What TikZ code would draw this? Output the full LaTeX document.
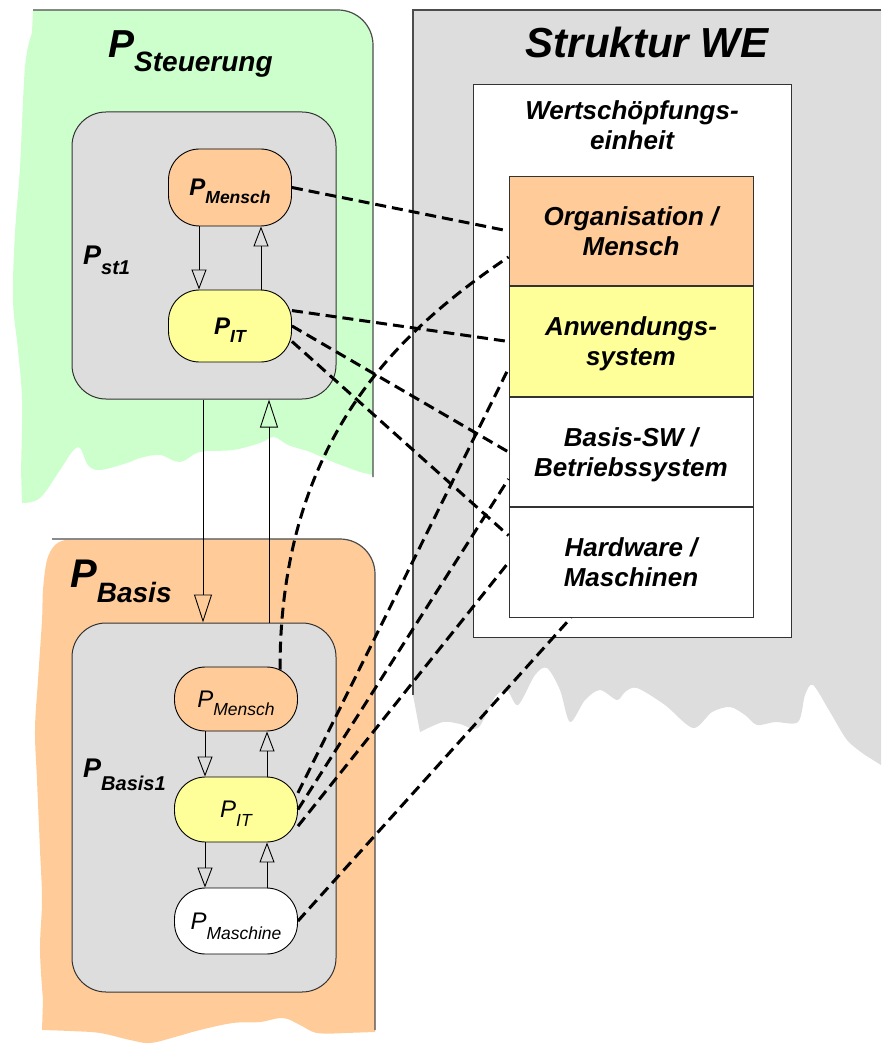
\documentclass[tikz,border=0pt]{standalone}
\usepackage{fontspec}
\setmainfont{Liberation Sans}
\usetikzlibrary{arrows.meta,positioning}

\definecolor{greenBg}{HTML}{CCFFCC}
\definecolor{orangeBg}{HTML}{FFCC99}
\definecolor{yellowBg}{HTML}{FFFF99}
\definecolor{grayBg}{HTML}{DDDDDD}

% P with a lowered index: P size, index size, drop, index
\newcommand{\Pidx}[4]{{\fontsize{#1}{#1}\selectfont P}\smash{\raisebox{-#3pt}{\fontsize{#2}{#2}\selectfont #4}}}

\begin{document}
\begin{tikzpicture}[x=1pt, y=-1pt,
  areaLine/.style={draw=black!70, line width=1.2pt},
  groupStyle/.style={draw=black!80, fill=grayBg, line width=1pt, rounded corners=34pt, inner sep=0pt, minimum width=264pt},
  pillStyle/.style={draw=black, line width=0.9pt, rounded corners=31pt, inner sep=0pt, minimum width=123pt},
  layerStyle/.style={draw=black!80, line width=1pt, minimum width=244pt, minimum height=109.5pt, inner sep=0pt, text depth=0pt, align=center, font=\fontsize{26}{30}\selectfont\bfseries\itshape},
  linkStyle/.style={line width=3pt, dash pattern=on 11pt off 6pt},
  flowStyle/.style={line width=0.9pt, -{Triangle[open, length=20pt, width=15pt]}},
  bigFlowStyle/.style={line width=0.9pt, -{Triangle[open, length=28pt, width=18pt]}}
]
\useasboundingbox (0,0) rectangle (881,1048);

% torn background areas
\fill[greenBg] (33,10) -- (338,10) arc[start angle=90, end angle=0, radius=35pt] -- (373,475)
  -- plot[smooth, tension=0.6] coordinates {(360,472) (333,462) (310,452) (288,445) (274,437) (260,443) (233,450) (200,452) (180,462) (160,455) (140,458) (127,463) (100,470) (88,465) (80,448) (72,452) (60,470) (40,498) (22,503)}
  -- plot[smooth, tension=0.6] coordinates {(21,470) (22,400) (18,350) (13,300) (15,233) (20,167) (25,67) (32,33)} -- cycle;
\fill[orangeBg] (340,539) arc[start angle=90, end angle=0, radius=35pt] -- (375,1032)
  -- plot[smooth, tension=0.6] coordinates {(345,1033) (317,1033) (300,1025) (283,1018) (260,1022) (233,1023) (200,1030) (175,1037) (150,1043) (130,1040) (100,1033) (70,1031) (42,1030)}
  -- plot[smooth, tension=0.6] coordinates {(43,1000) (40,950) (42,900) (40,850) (37,780) (35,730) (38,680) (42,620) (43,590) (47,560) (55,545) (65,540)} -- cycle;
\fill[grayBg] (413,10) -- (881,10) -- (881,765)
  -- plot[smooth, tension=0.5] coordinates {(865,755) (847,740) (830,712) (813,685) (805,695) (798,722) (775,722) (757,725) (745,715) (730,707) (712,712) (693,728) (665,705) (637,688) (625,692) (617,700) (600,690) (585,700) (570,722) (560,690) (547,668) (535,675) (518,705) (507,690) (495,697) (478,728) (460,724) (443,722) (420,732)}
  -- (413,695) -- cycle;
\draw[areaLine] (33,10) -- (338,10) arc[start angle=90, end angle=0, radius=35pt] -- (373,477);
\draw[areaLine] (52,539) -- (340,539) arc[start angle=90, end angle=0, radius=35pt] -- (375,1030);
\draw[areaLine] (413,695) -- (413,10) -- (881,10);

% process blocks
\node[groupStyle, minimum height=287pt] (st1) at (204,255.5) {};
\node[groupStyle, minimum height=369pt] (b1) at (204,807.5) {};

\node[pillStyle, fill=orangeBg, minimum height=77pt, font=\bfseries\itshape] (pm1) at (230,187.5) {\Pidx{24}{17.5}{8}{Mensch}};
\node[pillStyle, fill=yellowBg, minimum height=72pt, font=\bfseries\itshape] (pit1) at (230,326) {\Pidx{24}{17.5}{8}{IT}};
\node[pillStyle, fill=orangeBg, minimum height=64pt, font=\itshape] (pm2) at (236,699) {\Pidx{24}{17.5}{8}{Mensch}};
\node[pillStyle, fill=yellowBg, minimum height=65pt, font=\itshape] (pit2) at (236,809.5) {\Pidx{24}{17.5}{9}{IT}};
\node[pillStyle, fill=white, minimum height=66pt, font=\itshape] (pma) at (236,921) {\Pidx{24}{17.5}{10}{Maschine}};

\node[anchor=base west, inner sep=0pt, font=\bfseries\itshape] (lblSteuer) at (108,58) {\Pidx{39}{28}{14}{Steuerung}};
\node[anchor=base west, inner sep=0pt, font=\bfseries\itshape] (lblBasis) at (70,587) {\Pidx{40}{28}{15}{Basis}};
\node[anchor=base west, inner sep=0pt, font=\bfseries\itshape] (lblSt1) at (83,265) {\Pidx{27}{20}{10}{st1}};
\node[anchor=base west, inner sep=0pt, font=\bfseries\itshape] (lblB1) at (83,777) {\Pidx{27}{20}{13}{Basis1}};

% structure of the unit
\node[anchor=base, inner sep=0pt, font=\fontsize{42}{42}\selectfont\bfseries\itshape] (title) at (647,58) {Struktur WE};
\node[draw=black!80, fill=white, line width=1pt, minimum width=318pt, minimum height=552pt] (we) at (632,361) {};
\node[inner sep=0pt, align=center, font=\fontsize{26}{30}\selectfont\bfseries\itshape] (weLbl) at (632,125) {Wertschöpfungs-\\einheit};

\node[layerStyle, fill=orangeBg] (org) at (631,231) {Organisation /\\Mensch};
\node[layerStyle, fill=yellowBg, below=0pt of org] (anw) {Anwendungs-\\system};
\node[layerStyle, fill=white, below=0pt of anw] (bsw) {Basis-SW /\\Betriebssystem};
\node[layerStyle, fill=white, below=0pt of bsw] (hw) {Hardware /\\Maschinen};

% mapping
\draw[linkStyle] (pm1.east) -- (org.west);
\draw[linkStyle] (pit1.14) -- (anw.west);
\draw[linkStyle] (pit1.east) -- (bsw.west);
\draw[linkStyle] (pit1.-14) -- ([yshift=27pt]hw.west);
\draw[linkStyle] ([xshift=44pt, yshift=-3pt]pm2.north) .. controls +(90:230pt) and +(214:131pt) .. ([yshift=-26pt]org.west);
\draw[linkStyle] (pit2.15) -- ([yshift=-27pt]anw.west);
\draw[linkStyle] (pit2.east) -- ([yshift=-27pt]bsw.west);
\draw[linkStyle] (pit2.-15) -- (hw.west);
\draw[linkStyle] (pma.east) -- ([xshift=-60pt]hw.south);

% control flow
\foreach \a/\b in {pm1/pit1, pm2/pit2, pit2/pma} {
  \draw[flowStyle] ([xshift=-31pt]\a.south) -- ([xshift=-31pt]\b.north);
  \draw[flowStyle] ([xshift=31pt]\b.north) -- ([xshift=31pt]\a.south);
}
\draw[bigFlowStyle] ([xshift=-1pt]st1.south) -- ([xshift=-1pt]b1.north);
\draw[bigFlowStyle] ([xshift=65pt]b1.north) -- ([xshift=65pt]st1.south);
\end{tikzpicture}
\end{document}
